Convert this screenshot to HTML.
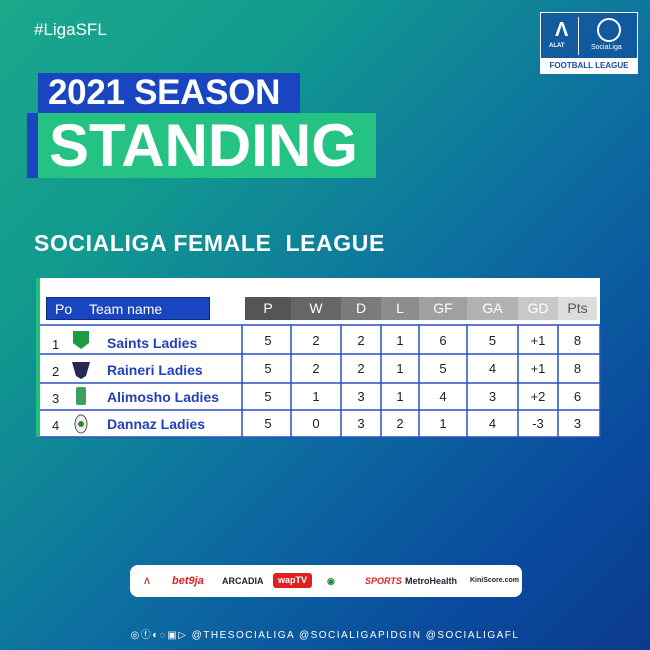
<!DOCTYPE html>
<html><head><meta charset="utf-8"><style>
*{margin:0;padding:0;box-sizing:border-box}
body{width:650px;height:650px;overflow:hidden;font-family:"Liberation Sans",sans-serif}
#bg{position:absolute;left:0;top:0;width:650px;height:650px;background:linear-gradient(135deg,#1aa88a 0%,#129a8f 25%,#0d6fa0 55%,#0a4d9e 80%,#0a3a90 100%)}
.abs{position:absolute}
.hdr{position:absolute;top:297px;height:23px;color:#fff;font-size:14px;line-height:23px;text-align:center}
.cell{position:absolute;font-size:13px;color:#222;text-align:center}
.team{position:absolute;left:107px;font-size:14px;font-weight:bold;color:#2440b8}
</style></head><body>
<div id="bg"></div>
<div class="abs" style="left:34px;top:20px;color:#fff;font-size:17px">#LigaSFL</div>
<div class="abs" style="left:540px;top:12px;width:98px;height:62px;border:1px solid #fff;background:rgba(20,70,160,0.6)">
 <div class="abs" style="left:14px;top:6px;color:#fff;font-size:20px;font-weight:bold">Λ</div>
 <div class="abs" style="left:8px;top:30px;color:#fff;font-size:6px;font-weight:bold">ALAT</div>
 <div class="abs" style="left:37px;top:4px;width:1px;height:38px;background:#fff"></div>
 <div class="abs" style="left:56px;top:5px;width:24px;height:24px;border:2px solid #fff;border-radius:50%"></div>
 <div class="abs" style="left:50px;top:31px;color:#fff;font-size:7px">SociaLiga</div>
 <div class="abs" style="left:0;top:45px;width:96px;height:16px;background:#fff;color:#1a4aa8;font-size:8px;font-weight:bold;text-align:center;line-height:16px">FOOTBALL LEAGUE</div>
</div>
<div class="abs" style="left:38px;top:73px;width:262px;height:40px;background:#1a45c0"></div>
<div class="abs" style="left:48px;top:74px;color:#fff;font-size:35px;font-weight:bold;line-height:38px;letter-spacing:-0.3px">2021 SEASON</div>
<div class="abs" style="left:27px;top:113px;width:11px;height:65px;background:#1a45c0"></div>
<div class="abs" style="left:38px;top:113px;width:338px;height:65px;background:#24c283"></div>
<div class="abs" style="left:49px;top:113px;color:#fff;font-size:60px;font-weight:bold;line-height:65px">STANDING</div>
<div class="abs" style="left:34px;top:230px;color:#fff;font-size:23px;font-weight:bold;letter-spacing:0.6px">SOCIALIGA FEMALE&nbsp; LEAGUE</div>
<div class="abs" style="left:36px;top:278px;width:564px;height:159px;background:#fff;border-left:4px solid #22c07d"></div>
<div class="hdr" style="left:46px;width:164px;background:#1a45c0;border:1px solid #0d2a80;text-align:left;padding-left:8px">Po<span style="position:absolute;left:42px">Team name</span></div>
<div class="hdr" style="left:245px;width:46px;background:#555">P</div>
<div class="hdr" style="left:291px;width:50px;background:#666">W</div>
<div class="hdr" style="left:341px;width:40px;background:#7b7b7b">D</div>
<div class="hdr" style="left:381px;width:38px;background:#8d8d8d">L</div>
<div class="hdr" style="left:419px;width:48px;background:#a0a0a0">GF</div>
<div class="hdr" style="left:467px;width:51px;background:#b2b2b2">GA</div>
<div class="hdr" style="left:518px;width:40px;background:#c8c8c8">GD</div>
<div class="hdr" style="left:558px;width:39px;background:#dcdcdc;color:#555">Pts</div>
<svg class="abs" style="left:0;top:0" width="650" height="650">
<g stroke="#2a4fc0" stroke-width="1.5" fill="none">
<line x1="40" y1="325" x2="600" y2="325"/><line x1="40" y1="354" x2="600" y2="354"/><line x1="40" y1="383" x2="600" y2="383"/><line x1="40" y1="410" x2="600" y2="410"/><line x1="40" y1="437" x2="600" y2="437"/>
<line x1="242" y1="325" x2="242" y2="437"/><line x1="291" y1="325" x2="291" y2="437"/><line x1="341" y1="325" x2="341" y2="437"/><line x1="381" y1="325" x2="381" y2="437"/><line x1="419" y1="325" x2="419" y2="437"/><line x1="467" y1="325" x2="467" y2="437"/><line x1="518" y1="325" x2="518" y2="437"/><line x1="558" y1="325" x2="558" y2="437"/><line x1="600" y1="325" x2="600" y2="437"/>
</g>
<path d="M73 331h16v12l-8 6l-8-6z" fill="#1e9a40"/>
<path d="M72 362h18l-4 14l-5 3l-5-3z" fill="#222a55"/>
<rect x="76" y="387" width="10" height="18" rx="2" fill="#3aa060"/>
<ellipse cx="81" cy="424" rx="6" ry="9" fill="#eee" stroke="#555"/><circle cx="81" cy="424" r="3" fill="#2a8a40"/>
</svg>
<div class="cell" style="left:52px;top:337px">1</div><div class="team" style="top:335px">Saints Ladies</div>
<div class="cell" style="left:52px;top:364px">2</div><div class="team" style="top:362px">Raineri Ladies</div>
<div class="cell" style="left:52px;top:391px">3</div><div class="team" style="top:389px">Alimosho Ladies</div>
<div class="cell" style="left:52px;top:418px">4</div><div class="team" style="top:416px">Dannaz Ladies</div>
<div id="nums"></div>
<div class="abs" style="left:130px;top:565px;width:392px;height:32px;background:#fff;border-radius:8px;font-size:9px;font-weight:bold;line-height:32px">
 <span style="position:absolute;left:14px;color:#c33">Λ</span>
 <span style="position:absolute;left:42px;color:#d22;font-style:italic;font-size:11px">bet9ja</span>
 <span style="position:absolute;left:92px;color:#222">ARCADIA</span>
 <span style="position:absolute;left:143px;top:8px;line-height:15px;background:#d22;color:#fff;padding:0 5px;border-radius:3px">wapTV</span>
 <span style="position:absolute;left:197px;color:#2a8a40">◉</span>
 <span style="position:absolute;left:235px;color:#d22;font-style:italic">SPORTS</span>
 <span style="position:absolute;left:275px;color:#223">MetroHealth</span>
 <span style="position:absolute;left:340px;color:#222;font-size:7px">KiniScore.com</span>
</div>
<div class="abs" style="left:100px;top:626px;width:450px;text-align:center;color:#fff;font-size:10px;letter-spacing:1.5px">◎ⓕ◐◌▣▷ @THESOCIALIGA @SOCIALIGAPIDGIN @SOCIALIGAFL</div>
<script>
var cols=[[245,291],[291,341],[341,381],[381,419],[419,467],[467,518],[518,558],[558,597]];
var d=[[5,2,2,1,6,5,"+1",8],[5,2,2,1,5,4,"+1",8],[5,1,3,1,4,3,"+2",6],[5,0,3,2,1,4,"-3",3]];
var ys=[333,361,389,416],h="";
d.forEach(function(r,i){r.forEach(function(v,j){h+='<div class="cell" style="left:'+cols[j][0]+'px;width:'+(cols[j][1]-cols[j][0])+'px;top:'+ys[i]+'px">'+v+'</div>';});});
document.getElementById("nums").innerHTML=h;
</script>
</body></html>
